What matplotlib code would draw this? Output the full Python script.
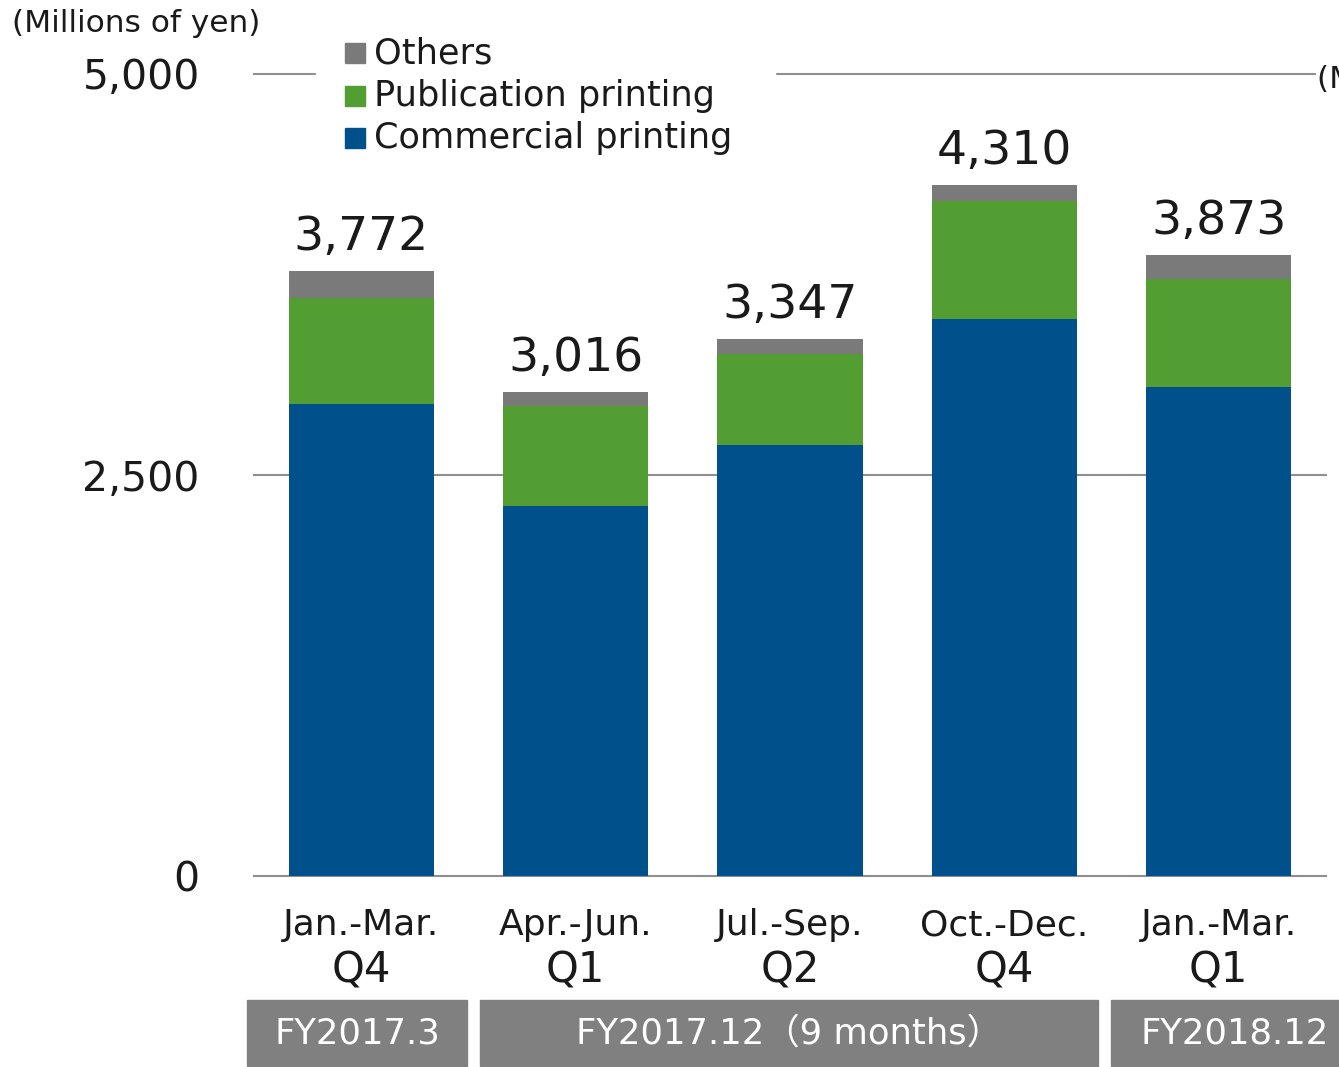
import matplotlib
matplotlib.use("Agg")
import matplotlib.pyplot as plt
from matplotlib.patches import Rectangle
from matplotlib.transforms import blended_transform_factory

plt.rcParams['font.family'] = ['DejaVu Sans', 'Noto Sans CJK JP']

# Net sales by segment (millions of yen)
periods = ["Jan.-Mar.", "Apr.-Jun.", "Jul.-Sep.", "Oct.-Dec.", "Jan.-Mar."]
quarters = ["Q4", "Q1", "Q2", "Q4", "Q1"]
commercial = [2945, 2304, 2690, 3474, 3051]
publication = [660, 629, 562, 733, 671]
others = [167, 83, 95, 103, 151]
totals = [3772, 3016, 3347, 4310, 3873]
fiscal_years = ["FY2017.3", "FY2017.12（9 months）", "FY2018.12"]

yticks = [0, 2500, 5000]
ytick_labels = ["0", "2,500", "5,000"]

C_COMM = "#00508c"
C_PUB = "#529e32"
C_OTH = "#7a7a7a"
C_GRID = "#8f8f8f"
C_BOX = "#808080"
C_TEXT = "#1a1a1a"

W, H = 1339, 1067
fig = plt.figure(figsize=(W / 100, H / 100), dpi=100)


def fx(px):
    return px / W


def fy(py):
    return 1 - py / H


ax_left, ax_right, ax_top, ax_bottom = 254, 1326, 74, 876
ax = fig.add_axes([fx(ax_left), fy(ax_bottom), fx(ax_right - ax_left), (ax_bottom - ax_top) / H])
ax.set_xlim(-0.5, 4.5)
ax.set_ylim(0, 5000)
for s in ax.spines.values():
    s.set_visible(False)
ax.patch.set_visible(False)

x = list(range(len(periods)))
bw = 0.677
ax.bar(x, commercial, width=bw, color=C_COMM, zorder=3)
ax.bar(x, publication, width=bw, bottom=commercial, color=C_PUB, zorder=3)
bottom3 = [c + p for c, p in zip(commercial, publication)]
ax.bar(x, others, width=bw, bottom=bottom3, color=C_OTH, zorder=3)

for yv in yticks:
    ax.axhline(yv, color=C_GRID, lw=1.5, zorder=1, clip_on=False)

ax.set_yticks(yticks)
ax.set_yticklabels(ytick_labels, fontsize=29.5, color=C_TEXT)
ax.tick_params(axis="y", length=0, pad=39)
ax.set_xticks([])

for xi, t in zip(x, totals):
    ax.annotate(f"{t:,}", (xi, t), xytext=(0, 15), textcoords="offset points",
                ha="center", va="baseline", fontsize=34, color=C_TEXT)

tr = blended_transform_factory(ax.transData, fig.transFigure)
for xi, p, q in zip(x, periods, quarters):
    ax.text(xi, fy(925), p, transform=tr, ha="center", va="center", fontsize=26, color=C_TEXT)
    ax.text(xi, fy(971), q, transform=tr, ha="center", va="center", fontsize=30, color=C_TEXT)

# Fiscal year bands under the quarter labels
box_edges = [(247, 467), (480, 1098), (1111, 1359)]
for (l, r), label in zip(box_edges, fiscal_years):
    fig.patches.append(Rectangle((fx(l), fy(1066)), fx(r - l), (1066 - 1000) / H,
                                 transform=fig.transFigure, color=C_BOX, zorder=2))
    fig.text(fx((l + r) / 2), fy(1034), label, ha="center", va="center",
             fontsize=25.5, color="white", zorder=3)

# Unit labels
fig.text(fx(12), fy(23), "(Millions of yen)", ha="left", va="center", fontsize=22.5, color=C_TEXT)
fig.text(fx(1317), fy(80), "(Millions of yen)", ha="left", va="center", fontsize=22.5, color=C_TEXT,
         zorder=6, bbox=dict(facecolor="white", edgecolor="none", pad=1))

# Legend
fig.patches.append(Rectangle((fx(316), fy(160)), fx(775 - 316), (160 - 38) / H,
                             transform=fig.transFigure, color="white", zorder=5))
legend_items = [("Others", C_OTH, 53), ("Publication printing", C_PUB, 96),
                ("Commercial printing", C_COMM, 138)]
for label, col, yc in legend_items:
    fig.patches.append(Rectangle((fx(345), fy(yc + 10)), fx(20), 20 / H,
                                 transform=fig.transFigure, color=col, zorder=6))
    fig.text(fx(374), fy(yc), label, ha="left", va="center", fontsize=25.3, color=C_TEXT, zorder=7)

fig.savefig("out.png", dpi=100)
